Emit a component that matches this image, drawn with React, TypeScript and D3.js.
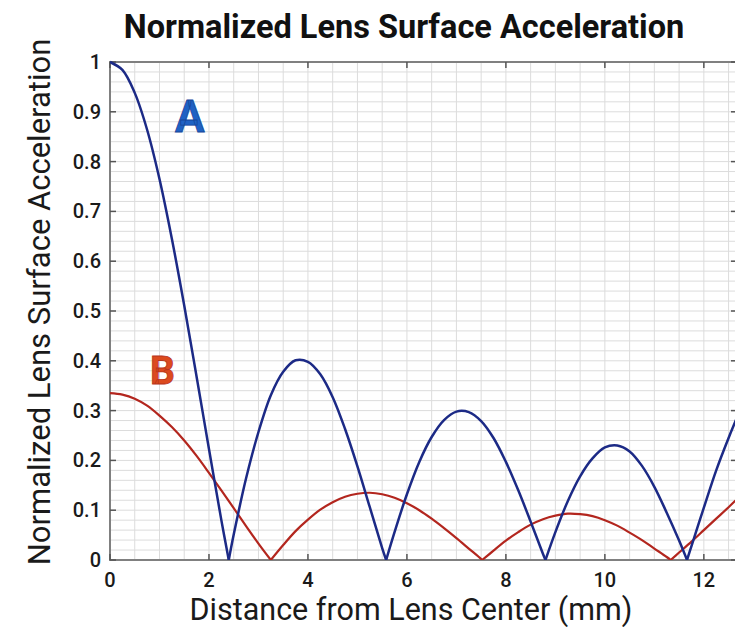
import React from "react";
import * as d3 from "d3";

const title = "Normalized Lens Surface Acceleration";
const xLabel = "Distance from Lens Center (mm)";
const yLabel = "Normalized Lens Surface Acceleration";

// curve A (blue)
const distanceA = [
  0, 0.25, 0.5, 0.75, 1, 1.25, 1.5, 1.75, 2, 2.25, 2.4,
  2.5, 2.75, 3, 3.25, 3.5, 3.75, 4, 4.25, 4.5, 4.75, 5, 5.25, 5.5, 5.58,
  5.75, 6, 6.25, 6.5, 6.75, 7, 7.25, 7.5, 7.75, 8, 8.25, 8.5, 8.75, 8.8,
  9, 9.25, 9.5, 9.75, 10, 10.25, 10.5, 10.75, 11, 11.25, 11.5, 11.66,
  11.75, 12, 12.25, 12.5, 12.75,
];
const accelA = [
  1, 0.984, 0.938, 0.864, 0.765, 0.645, 0.511, 0.368, 0.223, 0.08, 0,
  0.051, 0.164, 0.257, 0.331, 0.378, 0.401, 0.398, 0.373, 0.327, 0.263, 0.188, 0.106, 0.024, 0,
  0.056, 0.132, 0.197, 0.247, 0.281, 0.298, 0.297, 0.279, 0.245, 0.197, 0.14, 0.077, 0.012, 0,
  0.056, 0.118, 0.168, 0.204, 0.226, 0.23, 0.218, 0.189, 0.147, 0.095, 0.039, 0,
  0.028, 0.105, 0.18, 0.245, 0.305,
];

// curve B (red)
const distanceB = [
  0, 0.25, 0.5, 0.75, 1, 1.25, 1.5, 1.75, 2, 2.25, 2.5, 2.75, 3, 3.25,
  3.5, 3.75, 4, 4.25, 4.5, 4.75, 5, 5.25, 5.5, 5.75, 6, 6.25, 6.5, 6.75, 7, 7.25, 7.5, 7.52,
  7.75, 8, 8.25, 8.5, 8.75, 9, 9.25, 9.5, 9.75, 10, 10.25, 10.5, 10.75, 11, 11.25, 11.33,
  11.5, 11.75, 12, 12.25, 12.5, 12.75,
];
const accelB = [
  0.335, 0.332, 0.324, 0.31, 0.29, 0.267, 0.24, 0.209, 0.175, 0.14, 0.104, 0.068, 0.033, 0,
  0.03, 0.058, 0.081, 0.101, 0.116, 0.127, 0.133, 0.135, 0.132, 0.125, 0.114, 0.1, 0.083, 0.064, 0.044, 0.023, 0.002, 0,
  0.019, 0.039, 0.056, 0.071, 0.082, 0.089, 0.093, 0.092, 0.088, 0.08, 0.069, 0.055, 0.04, 0.023, 0.006, 0,
  0.015, 0.037, 0.06, 0.083, 0.106, 0.13,
];

const xTicks = [0, 2, 4, 6, 8, 10, 12];
const yTicks = [0, 0.1, 0.2, 0.3, 0.4, 0.5, 0.6, 0.7, 0.8, 0.9, 1];
const yTickLabels = ["0", "0.1", "0.2", "0.3", "0.4", "0.5", "0.6", "0.7", "0.8", "0.9", "1"];

const width = 735;
const height = 627;
const left = 110;
const right = 737;
const top = 62;
const bottom = 560;
const font = "Roboto, 'Noto Sans', sans-serif";

// split a curve into lobes at its zeros so the cusps stay sharp
function lobes(xs: number[], ys: number[]) {
  const out: [number, number][][] = [];
  let cur: [number, number][] = [];
  xs.forEach((x, i) => {
    cur.push([x, ys[i]]);
    if (ys[i] === 0 && i > 0 && i < xs.length - 1) {
      out.push(cur);
      cur = [[x, ys[i]]];
    }
  });
  out.push(cur);
  return out;
}

const App = () => {
  const x = d3.scaleLinear().domain([0, 12.67]).range([left, right]);
  const y = d3.scaleLinear().domain([0, 1]).range([bottom, top]);
  const line = d3
    .line<[number, number]>()
    .x((d) => x(d[0]))
    .y((d) => y(d[1]))
    .curve(d3.curveCatmullRom.alpha(0.5));

  const vGrid = d3.range(0.5, 12.6, 0.5);
  const hGrid = d3.range(0.02, 0.999, 0.02);

  return (
    <svg
      width={width}
      height={height}
      style={{ position: "absolute", left: 0, top: 0, background: "#fff" }}
    >
      <defs>
        <clipPath id="plot">
          <rect x={left} y={top - 5} width={right - left} height={bottom - top + 5} />
        </clipPath>
      </defs>

      {/* grid */}
      <g stroke="#dcdcdc" strokeWidth={1}>
        {vGrid.map((v) => (
          <line key={"v" + v} x1={x(v)} x2={x(v)} y1={top} y2={bottom} />
        ))}
        {hGrid.map((v) => (
          <line key={"h" + v} x1={left} x2={right} y1={y(v)} y2={y(v)} />
        ))}
      </g>

      {/* frame */}
      <rect
        x={left}
        y={top}
        width={right - left}
        height={bottom - top}
        fill="none"
        stroke="#808080"
        strokeWidth={2}
      />

      {/* ticks */}
      <g stroke="#555" strokeWidth={1.5}>
        {xTicks.map((t) => (
          <g key={"xt" + t}>
            <line x1={x(t)} x2={x(t)} y1={bottom} y2={bottom - 6} />
            <line x1={x(t)} x2={x(t)} y1={top} y2={top + 6} />
          </g>
        ))}
        {yTicks.map((t) => (
          <g key={"yt" + t}>
            <line x1={left} x2={left + 6} y1={y(t)} y2={y(t)} />
            <line x1={right} x2={right - 6} y1={y(t)} y2={y(t)} />
          </g>
        ))}
      </g>

      {/* tick labels */}
      <g fontFamily={font} fontSize={20} fontWeight={500} fill="#1a1a1a">
        {xTicks.map((t) => (
          <text key={"xl" + t} x={x(t)} y={587} textAnchor="middle">
            {t}
          </text>
        ))}
        {yTicks.map((t, i) => (
          <text key={"yl" + t} x={101} y={y(t)} dy="0.35em" textAnchor="end">
            {yTickLabels[i]}
          </text>
        ))}
      </g>

      {/* curves */}
      <g clipPath="url(#plot)" fill="none" strokeLinejoin="round">
        {lobes(distanceB, accelB).map((seg, i) => (
          <path key={"b" + i} d={line(seg) || ""} stroke="#b3261e" strokeWidth={2.2} />
        ))}
        {lobes(distanceA, accelA).map((seg, i) => (
          <path key={"a" + i} d={line(seg) || ""} stroke="#1c2a86" strokeWidth={2.5} />
        ))}
      </g>

      {/* curve labels */}
      <text
        x={175}
        y={132}
        fontFamily={font}
        fontWeight={700}
        fontSize={44}
        fill="#1f62c4"
        stroke="#16479a"
        strokeWidth={0.8}
      >
        A
      </text>
      <text
        x={150}
        y={384}
        fontFamily={font}
        fontWeight={700}
        fontSize={39}
        fill="#dc4a1e"
        stroke="#b8361a"
        strokeWidth={0.8}
      >
        B
      </text>

      {/* titles */}
      <text
        x={404}
        y={38}
        textAnchor="middle"
        fontFamily={font}
        fontWeight={700}
        fontSize={32.5}
        fill="#111"
      >
        {title}
      </text>
      <text
        x={411}
        y={620}
        textAnchor="middle"
        fontFamily={font}
        fontSize={30.5}
        fill="#1a1a1a"
      >
        {xLabel}
      </text>
      <text
        transform={`translate(50, 302) rotate(-90)`}
        textAnchor="middle"
        fontFamily={font}
        fontSize={31}
        fill="#1a1a1a"
      >
        {yLabel}
      </text>
    </svg>
  );
};

export default App;
